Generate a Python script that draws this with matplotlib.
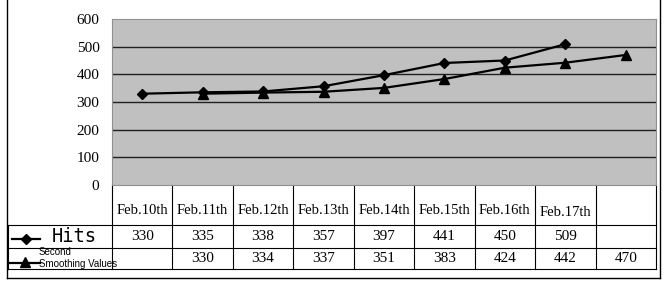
import matplotlib.pyplot as plt
import numpy as np

# data
categories = ['Feb.10th', 'Feb.11th', 'Feb.12th', 'Feb.13th', 'Feb.14th',
              'Feb.15th', 'Feb.16th', 'Feb.17th', '']
hits = [330, 335, 338, 357, 397, 441, 450, 509]
hits_pos = [0, 1, 2, 3, 4, 5, 6, 7]
smooth = [330, 334, 337, 351, 383, 424, 442, 470]
smooth_pos = [1, 2, 3, 4, 5, 6, 7, 8]
yticks = [0, 100, 200, 300, 400, 500, 600]

W, H = 672, 282
fig = plt.figure(figsize=(W / 100, H / 100), dpi=100)

# plot area in pixels
left, right, top, bottom = 112, 656, 19, 185
ax = fig.add_axes([left / W, 1 - bottom / H, (right - left) / W, (bottom - top) / H])
ax.set_facecolor('#c0c0c0')
ax.set_xlim(-0.5, len(categories) - 0.5)
ax.set_ylim(0, 600)
ax.set_yticks(yticks)
ax.set_yticklabels([str(v) for v in yticks], family='Liberation Serif', fontsize=11)
ax.tick_params(axis='y', length=0, pad=9)
ax.set_xticks([])
for y in yticks[1:-1]:
    ax.axhline(y, color='#202020', lw=1, zorder=1)
for s in ['left', 'top', 'right', 'bottom']:
    ax.spines[s].set_color('#909090')
ax.spines['bottom'].set_visible(False)

ax.plot(hits_pos, hits, color='black', lw=1.6, marker='D', markersize=5.5, zorder=3)
ax.plot(smooth_pos, smooth, color='black', lw=1.6, marker='^', markersize=7, zorder=3)

# overlay in pixel coordinates for the data table and frame
ov = fig.add_axes([0, 0, 1, 1], facecolor='none')
ov.set_xlim(0, W)
ov.set_ylim(H, 0)
ov.axis('off')

n = len(categories)
edges = np.linspace(left, right, n + 1)
centers = (edges[:-1] + edges[1:]) / 2
r0, r1, r2, r3 = bottom, 225, 248, 269
tl = 8
lc = 'black'

# table lines
for x in edges:
    ov.plot([x, x], [r0, r3], color=lc, lw=0.8)
ov.plot([tl, tl], [r1, r3], color=lc, lw=0.8)
for y in [r1, r2, r3]:
    ov.plot([tl, right], [y, y], color=lc, lw=0.8)
ov.plot([left, right], [r0, r0], color='#909090', lw=0.8)

# outer frame
ov.plot([7, 7], [0, 278], color='black', lw=1)
ov.plot([7, 660], [278, 278], color='black', lw=1)
ov.plot([660, 660], [0, 278], color='black', lw=1)

# header row
for i, c in enumerate(categories):
    dy = 2 if c == 'Feb.17th' else 0
    ov.text(centers[i], 210 + dy, c, ha='center', va='center',
            family='Liberation Serif', fontsize=10.5)

# value rows
for p, v in zip(hits_pos, hits):
    ov.text(centers[p], (r1 + r2) / 2, str(v), ha='center', va='center',
            family='Liberation Serif', fontsize=11)
for p, v in zip(smooth_pos, smooth):
    ov.text(centers[p], (r2 + r3) / 2 + 0.5, str(v), ha='center', va='center',
            family='Liberation Serif', fontsize=11)

# legend keys inside the table
ov.plot([12, 40], [239, 239], color='black', lw=1.6)
ov.plot([26], [239], color='black', marker='D', markersize=5)
ov.text(52, 237, 'Hits', ha='left', va='center', family='DejaVu Sans Mono', fontsize=13.5)
ov.plot([10, 40], [263, 263], color='black', lw=1.6)
ov.plot([25], [262], color='black', marker='^', markersize=6.5)
ov.text(39, 252, 'Second', ha='left', va='center', family='Liberation Sans', fontsize=7)
ov.text(39, 264, 'Smoothing Values', ha='left', va='center', family='Liberation Sans', fontsize=7)

fig.savefig('out.png', dpi=100)
